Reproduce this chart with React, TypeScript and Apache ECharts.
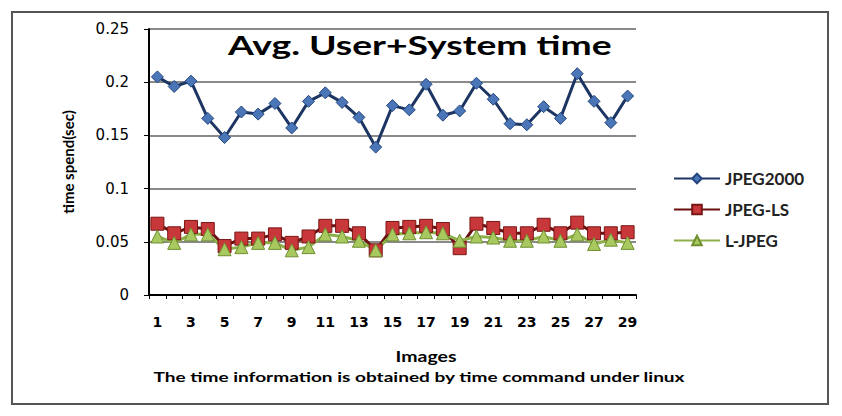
import React, { useEffect, useRef } from "react";
import * as echarts from "echarts";

const categories = Array.from({ length: 29 }, (_, i) => String(i + 1));
const jpeg2000 = [0.205, 0.196, 0.201, 0.166, 0.148, 0.172, 0.170, 0.180, 0.157, 0.182, 0.190, 0.181, 0.167, 0.139, 0.178, 0.174, 0.198, 0.169, 0.173, 0.199, 0.184, 0.161, 0.160, 0.177, 0.166, 0.208, 0.182, 0.162, 0.187];
const jpegLS = [0.067, 0.058, 0.064, 0.062, 0.046, 0.053, 0.053, 0.057, 0.049, 0.055, 0.065, 0.065, 0.058, 0.042, 0.063, 0.064, 0.065, 0.062, 0.044, 0.067, 0.063, 0.058, 0.058, 0.066, 0.058, 0.068, 0.058, 0.058, 0.059];
const lJpeg = [0.055, 0.049, 0.057, 0.057, 0.043, 0.045, 0.049, 0.049, 0.042, 0.045, 0.057, 0.055, 0.051, 0.042, 0.057, 0.058, 0.059, 0.058, 0.051, 0.055, 0.054, 0.051, 0.051, 0.055, 0.051, 0.057, 0.048, 0.052, 0.049];

const FONT = "Lato";

export default function App() {
  const ref = useRef<HTMLDivElement>(null);
  useEffect(() => {
    if (!ref.current) return;
    const chart = echarts.init(ref.current, null, { renderer: "svg" });
    chart.setOption({
      animation: false,
      backgroundColor: "#ffffff",
      textStyle: { fontFamily: FONT },
      graphic: [
        {
          type: "rect",
          shape: { x: 12, y: 12, width: 816, height: 392 },
          style: { fill: "none", stroke: "#555", lineWidth: 2 },
        },
        {
          type: "text",
          x: 228,
          y: 45,
          scaleX: 1.38,
          style: { text: "Avg. User+System time", font: `bold 27px ${FONT}`, fill: "#000", textAlign: "left", textVerticalAlign: "middle" },
        },
        {
          type: "text",
          x: 426,
          y: 356,
          scaleX: 1.3,
          style: { text: "Images", font: `bold 15px ${FONT}`, fill: "#000", textAlign: "center", textVerticalAlign: "middle" },
        },
        {
          type: "text",
          x: 419,
          y: 377,
          scaleX: 1.36,
          style: {
            text: "The time information is obtained by time command under linux",
            font: `bold 14px ${FONT}`,
            fill: "#000",
            textAlign: "center",
            textVerticalAlign: "middle",
          },
        },
      ],
      legend: {
        orient: "vertical",
        left: 668,
        top: 165,
        itemGap: 14,
        itemWidth: 46,
        itemHeight: 12,
        textStyle: { fontFamily: FONT, fontSize: 17, fontWeight: "bold", color: "#222" },
        data: ["JPEG2000", "JPEG-LS", "L-JPEG"],
      },
      grid: { left: 149, right: 206, top: 29, bottom: 121 },
      xAxis: {
        type: "category",
        data: categories,
        boundaryGap: true,
        axisLine: { lineStyle: { color: "#000", width: 2 } },
        axisTick: { show: true, interval: 0, length: 4, lineStyle: { color: "#000" } },
        axisLabel: { interval: 1, margin: 20, fontFamily: "DejaVu Sans", fontSize: 14, fontWeight: "bold", color: "#000" },
      },
      yAxis: {
        type: "value",
        min: 0,
        max: 0.25,
        interval: 0.05,
        name: "time spend(sec)",
        nameLocation: "middle",
        nameGap: 74,
        nameTextStyle: { fontFamily: FONT, fontSize: 15, fontWeight: "bold", color: "#000" },
        axisLine: { show: true, lineStyle: { color: "#000", width: 2 } },
        axisTick: { show: true, length: 5, lineStyle: { color: "#000" } },
        axisLabel: { margin: 20, fontFamily: "DejaVu Sans", fontSize: 15, color: "#000" },
        splitLine: { lineStyle: { color: "#8a8a8a", width: 2 } },
      },
      series: [
        {
          name: "JPEG2000",
          type: "line",
          data: jpeg2000,
          symbol: "diamond",
          symbolSize: 12,
          showAllSymbol: true,
          lineStyle: { color: "#1c3563", width: 3 },
          itemStyle: { color: "#4a76b8", borderColor: "#24467e", borderWidth: 1 },
        },
        {
          name: "JPEG-LS",
          type: "line",
          data: jpegLS,
          symbol: "rect",
          symbolSize: 13,
          showAllSymbol: true,
          lineStyle: { color: "#6b1010", width: 3 },
          itemStyle: { color: "#c8383a", borderColor: "#7a1515", borderWidth: 1 },
        },
        {
          name: "L-JPEG",
          type: "line",
          data: lJpeg,
          symbol: "triangle",
          symbolSize: 13,
          showAllSymbol: true,
          lineStyle: { color: "#8db04a", width: 3 },
          itemStyle: { color: "#a8c860", borderColor: "#6f8f2e", borderWidth: 1 },
        },
      ],
    });
    return () => chart.dispose();
  }, []);
  return <div ref={ref} style={{ width: 842, height: 416, position: "absolute", left: 0, top: 0 }} />;
}
